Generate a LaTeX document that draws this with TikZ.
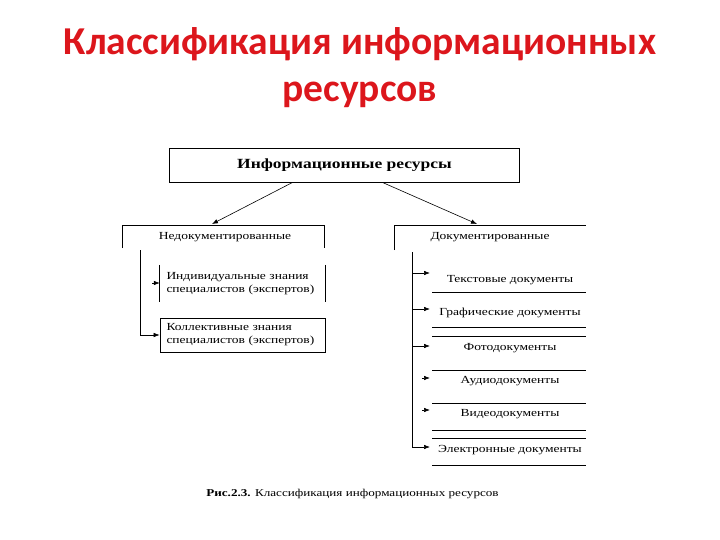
\documentclass[tikz,border=0pt]{standalone}
\usepackage{fontspec}
\setmainfont{Liberation Serif}
\newfontfamily\titlefont{Carlito}
\newfontfamily\diagfont[FakeStretch=1.25]{Liberation Serif}
\usetikzlibrary{arrows.meta,positioning}

\definecolor{titlered}{RGB}{220,22,28}

\tikzset{
 box/.style={draw,line width=0.9pt,inner sep=0pt},
 lbl/.style={font=\diagfont\fontsize{10.8}{13}\selectfont,inner sep=0pt},
 link/.style={-{Latex[length=6pt,width=4.5pt]},line width=0.6pt},
}

\begin{document}
\begin{tikzpicture}[x=1pt,y=-1pt]
 \useasboundingbox (0,0) rectangle (720,540);
 % title
 \node[anchor=base,text=titlered,font=\titlefont\bfseries\fontsize{39.5}{44}\selectfont] (title1) at (360,55) {Классификация информационных};
 \node[anchor=base,text=titlered,font=\titlefont\bfseries\fontsize{39.5}{44}\selectfont] (title2) at (360,102) {ресурсов};

 % root
 \node[box,minimum width=350,minimum height=34,font=\diagfont\bfseries\fontsize{14}{16}\selectfont] (res) at (344.5,165) {Информационные ресурсы};

 % two groups
 \node[lbl] (nedoc) at (225,237) {Недокументированные};
 \node[lbl] (doc) at (490,237) {Документированные};
 \draw[line width=0.8pt] (122,248) |- (324,225) -- (324,248);
 \draw[line width=0.8pt] (394,250) |- (586,225);
 \coordinate (nedoc top) at (212,224);
 \coordinate (doc top) at (477,224);
 \draw[link] ([xshift=-52pt]res.south) -- (nedoc top);
 \draw[link] ([xshift=38pt]res.south) -- (doc top);

 % undocumented
 \node[lbl,minimum width=165,minimum height=37,align=left,text width=152] (indiv) at (242.5,283.5) {Индивидуальные знания\\специалистов (экспертов)};
 \draw[line width=0.8pt] (indiv.north west) -- (indiv.south west);
 \draw[line width=0.8pt] (indiv.north east) -- (indiv.south east);
 \node[lbl,box,line width=0.8pt,minimum width=165,minimum height=34,align=left,text width=152] (koll) at (242.5,335) {Коллективные знания\\специалистов (экспертов)};
 \coordinate (nedoc stem) at (140,250);
 \draw[link] (152,283) -- (indiv.west |- 0,283);
 \draw[link] (nedoc stem) |- (koll.west);

 % documented
 \coordinate (doc stem) at (412,252);
 \foreach \i/\ty/\ay/\txt in {1/280/273/{Текстовые документы},2/313/309/{Графические документы},3/348/346/{Фотодокументы},4/381/378/{Аудиодокументы},5/414/410/{Видеодокументы},6/450/447/{Электронные документы}}{
  \node[lbl] (item\i) at (510,\ty) {\txt};
  \coordinate (tip\i) at (430,\ay);
 }
 \draw[line width=0.8pt] (doc stem) -- (412,447);
 \foreach \i in {1,2,3,6}
  \draw[link] (doc stem |- tip\i) -- (tip\i);
 \foreach \i in {4,5}
  \draw[link] ([xshift=-8pt]tip\i) -- (tip\i);
 \foreach \ly in {292,327,336,370,403,430,438,465}
  \draw[line width=0.8pt] (432,\ly) -- (586,\ly);

 % caption
 \node[anchor=base,font=\diagfont\fontsize{10.5}{12}\selectfont] (caption) at (352.5,496) {\textbf{Рис.2.3.} Классификация информационных ресурсов};
\end{tikzpicture}
\end{document}
